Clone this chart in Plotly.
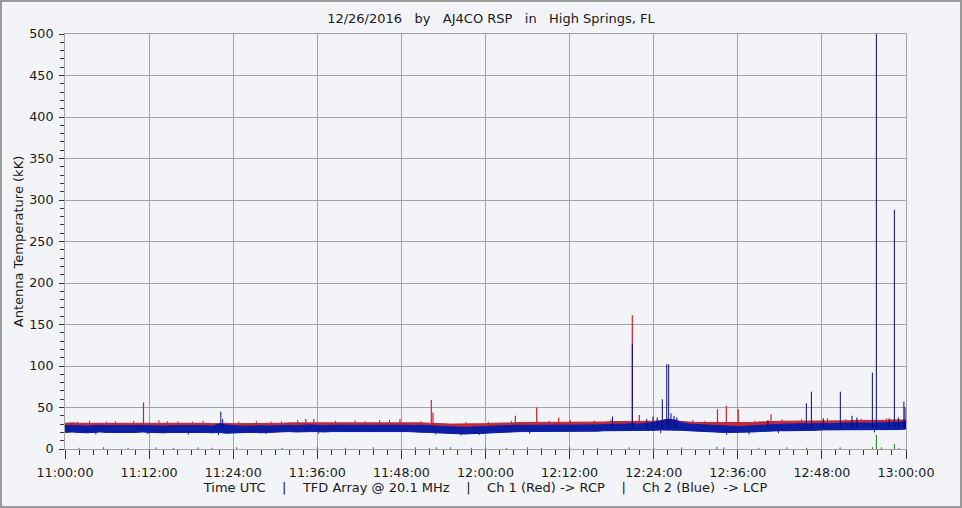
import plotly.graph_objects as go
import pandas as pd

DAY = "2016-12-26"
START = "11:00:00"
END = "13:00:00"

TITLE = "12/26/2016  by  AJ4CO RSP  in  High Springs, FL"
Y_TITLE = "Antenna Temperature (kK)"
X_TITLE = "Time UTC    |    TFD Array @ 20.1 MHz    |    Ch 1 (Red) -> RCP    |    Ch 2 (Blue)  -> LCP"

# envelope sample times (minutes after 11:00)
env_minutes = list(range(121))

blue_hi = [28, 28.5, 28, 27.5, 28, 28.5, 28, 28, 27.5, 28,
           28, 28.5, 28, 28, 27.5, 28, 28, 28.5, 28, 28,
           28, 27.5, 30, 29, 28, 27.5, 27.5, 28, 28, 27.5,
           28, 28, 28.5, 28, 28.5, 29, 28.5, 28, 28.5, 28.5,
           28.5, 29, 28.5, 28.5, 29, 28.5, 28.5, 29, 28.5, 28.5,
           28, 28.5, 28, 27.5, 27, 26.5, 26.5, 26, 26.5, 26.5,
           27, 27.5, 28, 28, 28.5, 28.5, 28.5, 29, 28.5, 28.5,
           28.5, 29, 29, 28.5, 29, 29, 29, 29.5, 29.5, 30,
           30, 30.5, 30, 31, 32, 34, 36, 35, 32, 30,
           29.5, 29, 28.5, 28, 27.5, 27.5, 27, 27.5, 28, 28.5,
           29, 29.5, 29.5, 30, 30, 30.5, 30, 30.5, 31, 30.5,
           31, 31, 31.5, 31, 31.5, 31, 31.5, 31.5, 32, 32, 33]

blue_lo = [20, 20.5, 20, 19.5, 20, 20.5, 20, 20, 19.5, 20,
           20, 20.5, 20, 20, 19.5, 20, 20, 20.5, 20, 20,
           20, 19.5, 20, 19, 19.5, 19.5, 20, 20, 19.5, 20,
           20.5, 20.5, 21, 20.5, 21, 21, 21, 20.5, 21, 21,
           21, 21, 21, 21.5, 21, 21, 21, 21.5, 21, 21,
           20.5, 20.5, 20, 19.5, 19, 18.5, 18.5, 18, 18.5, 18.5,
           19, 19.5, 20, 20.5, 21, 21, 21, 21, 21, 21,
           21, 21, 21.5, 21.5, 21.5, 21.5, 21.5, 22, 22, 22,
           22, 22, 22, 22, 22.5, 23, 23, 23, 22.5, 22,
           21.5, 21, 21, 20.5, 20, 20, 20, 20, 20.5, 21,
           21.5, 21.5, 22, 22, 22, 22.5, 22.5, 22.5, 23, 23,
           23, 23, 23, 23, 23.5, 23, 23.5, 23.5, 23.5, 23.5, 24]

red_hi = [31, 31.5, 31, 31, 31.5, 31, 31, 31.5, 31, 31,
          31, 31.5, 31, 31.5, 31, 31, 31.5, 31, 31, 31,
          31, 30.5, 31, 31, 30.5, 30.5, 30.5, 31, 31, 31,
          31, 31, 31.5, 31.5, 31.5, 32, 31.5, 31.5, 32, 32,
          32, 32, 31.5, 32, 32, 32, 31.5, 32, 32, 31.5,
          31.5, 31.5, 31, 31, 30.5, 30, 30, 30, 30, 30.5,
          30.5, 31, 31, 31.5, 31.5, 32, 32, 32, 32, 32,
          32, 32, 32, 32, 32.5, 32.5, 32.5, 32.5, 33, 33,
          33, 33, 33, 33, 33.5, 34, 35, 34, 33, 32.5,
          32, 32, 32, 31.5, 31.5, 31.5, 31.5, 32, 32, 32.5,
          33, 33, 33.5, 33.5, 33.5, 33.5, 34, 34, 34, 34,
          34, 34, 34, 34.5, 34.5, 34, 34.5, 34.5, 35, 35, 35]

# Ch 1 (red) spikes: minutes after 11:00 and peak value
red_spike_min = [11.2, 34.35, 35.5, 47.8, 52.27, 52.5, 64.26, 67.3, 70.45,
                 80.95, 81.95, 93.1, 94.36, 96.07, 100.74]
red_spike_val = [56, 36, 36, 36, 59, 44, 40, 50, 38,
                 161, 41, 48, 52, 48, 42]

red_small_min = [1.8, 3.5, 5.9, 7.2, 9.8, 13.4, 14.6, 16.1, 18.2, 19.7, 24.8, 27.3,
                 29.4, 30.9, 33.2, 38.6, 41.4, 42.8, 44.9, 46.3, 50.8, 57.2, 60.4,
                 63.7, 69.1, 72.1, 75.5, 77.9, 89.6, 91.3, 98.4, 102.3, 105.1,
                 108.8, 111.4, 113.6, 117.2]
red_small_val = [33, 34, 33, 33.5, 34, 35, 33.5, 33.5, 33, 34, 33, 34,
                 33, 33.5, 35, 34, 34.5, 33.5, 35, 35, 33.5, 32.5, 33,
                 34, 34, 35, 34.5, 35.5, 35, 34, 34, 36, 36,
                 37, 36, 36.5, 37]

# Ch 2 (blue) spikes
blue_spike_min = [22.23, 22.5, 78.12, 80.95, 83.0, 83.9, 84.5, 85.23, 85.86, 86.14,
                  86.47, 86.9, 87.3, 100.3, 105.78, 106.5, 108.2, 110.63, 112.3,
                  113.0, 115.2, 115.77, 117.6, 118.34, 118.9, 119.7, 119.86]
blue_spike_val = [45, 36, 39, 127, 36, 39, 38, 60, 102, 102,
                  43, 40, 38, 35, 55, 69, 37, 69, 40,
                  38, 92, 520, 37, 288, 38, 57, 50]

blue_dip_min = [4.4, 11.8, 17.6, 21.9, 28.7, 36.2, 52.9, 56.5, 59.1, 66.3,
                85.0, 94.4, 97.6, 101.8, 115.5]
blue_dip_val = [17.5, 18, 17.5, 17, 18, 18.5, 17.5, 16.5, 17, 18.5,
                19, 17, 17.5, 19, 20]

# third channel (green) small blips
green_min = [2.0, 5.5, 9.0, 13.0, 15.5, 19.0, 21.0, 24.5, 31.0, 36.0, 40.0, 44.0,
             50.0, 52.0, 53.0, 55.0, 58.0, 60.0, 63.0, 66.0, 68.0, 72.0, 76.0,
             80.5, 84.0, 88.0, 93.0, 94.0, 99.0, 103.0, 105.8, 110.6, 115.2,
             115.77, 116.5, 118.34, 119.0]
green_val = [1.5, 2, 1.5, 2, 1.5, 2, 1.5, 2, 1.5, 2, 1.5, 2,
             2, 1.5, 2, 2, 1.5, 2, 1.5, 2, 1.5, 2, 1.5,
             2, 1.5, 2, 2.5, 2, 1.5, 2, 1.5, 2, 2.5,
             17, 2, 6, 1.5]

base = pd.Timestamp(f"{DAY} {START}")


def to_time(minutes):
    return [base + pd.Timedelta(minutes=m) for m in minutes]


def segments(minutes, values, foot):
    xs, ys = [], []
    for t, v in zip(to_time(minutes), values):
        xs += [t, t, None]
        ys += [foot, v, None]
    return xs, ys


env_t = to_time(env_minutes)

RED = "#c02a3a"
RED_SPIKE = "#d0202e"
BLUE = "#0c1ea4"
BLUE_SPIKE = "#07077f"
GREEN = "#1e7a1e"

fig = go.Figure()

# red band (from blue lower edge up to red upper edge)
fig.add_trace(go.Scatter(x=env_t, y=blue_lo, mode="lines",
                         line=dict(width=0, color=RED), hoverinfo="skip", showlegend=False))
fig.add_trace(go.Scatter(x=env_t, y=red_hi, mode="lines", fill="tonexty",
                         fillcolor=RED, line=dict(width=1, color=RED), showlegend=False))
sx, sy = segments(red_small_min, red_small_val, 28)
fig.add_trace(go.Scatter(x=sx, y=sy, mode="lines", line=dict(width=1, color=RED), showlegend=False))
sx, sy = segments(red_spike_min, red_spike_val, 28)
fig.add_trace(go.Scatter(x=sx, y=sy, mode="lines", line=dict(width=1.2, color=RED_SPIKE), showlegend=False))

# blue band
fig.add_trace(go.Scatter(x=env_t, y=blue_lo, mode="lines",
                         line=dict(width=1, color=BLUE), showlegend=False))
fig.add_trace(go.Scatter(x=env_t, y=blue_hi, mode="lines", fill="tonexty",
                         fillcolor=BLUE, line=dict(width=1, color=BLUE), showlegend=False))
sx, sy = segments(blue_dip_min, blue_dip_val, 24)
fig.add_trace(go.Scatter(x=sx, y=sy, mode="lines", line=dict(width=1, color=BLUE), showlegend=False))
sx, sy = segments(blue_spike_min, blue_spike_val, 26)
fig.add_trace(go.Scatter(x=sx, y=sy, mode="lines", line=dict(width=1, color=BLUE_SPIKE), showlegend=False))

# green
sx, sy = segments(green_min, green_val, 0)
fig.add_trace(go.Scatter(x=sx, y=sy, mode="lines", line=dict(width=1, color=GREEN), showlegend=False))

FONT = "DejaVu Sans"
GRID = "#a3a3a3"
BG = "#f3f4f7"
NB = "\u00a0"

fig.update_layout(
    width=962, height=508,
    margin=dict(l=65, r=56, t=34, b=59),
    paper_bgcolor=BG, plot_bgcolor=BG,
    font=dict(family=FONT, size=12, color="#1a1a1a"),
    title=dict(text=TITLE.replace(" ", NB).replace(NB + NB, NB * 3), x=0.5065, xref="paper",
               y=1 - 18 / 508, yref="container",
               xanchor="center", yanchor="middle", font=dict(size=13, family=FONT, color="#1a1a1a")),
    showlegend=False,
)

fig.update_xaxes(
    type="date",
    range=[f"{DAY} {START}", f"{DAY} {END}"],
    dtick=12 * 60 * 1000, tick0=f"{DAY} {START}",
    tickformat="%H:%M:%S",
    showgrid=True, gridcolor=GRID, gridwidth=1,
    showline=True, linecolor=GRID, linewidth=1, mirror=True,
    ticks="outside", ticklen=9, tickcolor="#333333", tickwidth=1,
    ticklabelstandoff=3,
    minor=dict(dtick=2 * 60 * 1000, ticks="outside", ticklen=5, tickcolor="#333333", showgrid=False),
    zeroline=False, automargin=False,
    title=dict(text=X_TITLE.replace(" ", NB), standoff=1, font=dict(size=13, family=FONT)),
    tickfont=dict(size=12.7, family=FONT),
)

fig.update_yaxes(
    range=[0, 500], dtick=50, tick0=0,
    showgrid=True, gridcolor=GRID, gridwidth=1,
    showline=True, linecolor=GRID, linewidth=1, mirror=True,
    ticks="outside", ticklen=5, tickcolor="#333333", tickwidth=1,
    ticklabelstandoff=3,
    minor=dict(dtick=10, ticks="outside", ticklen=4, tickcolor="#333333", showgrid=False),
    zeroline=False, automargin=False,
    title=dict(text=Y_TITLE, standoff=2, font=dict(size=13, family=FONT)),
    tickfont=dict(size=12.7, family=FONT),
)

# outer frame of the picture
fig.add_shape(type="rect", xref="paper", yref="paper",
              x0=-64 / 841, x1=(961 - 65) / 841, y0=-(507 - 449) / 415, y1=1 + 33 / 415,
              line=dict(color="#9a9a9a", width=2), fillcolor="rgba(0,0,0,0)", layer="above")

fig.write_html("out.html", config={"displayModeBar": False},
               post_script="document.body.style.margin='0';document.body.style.padding='0';")
